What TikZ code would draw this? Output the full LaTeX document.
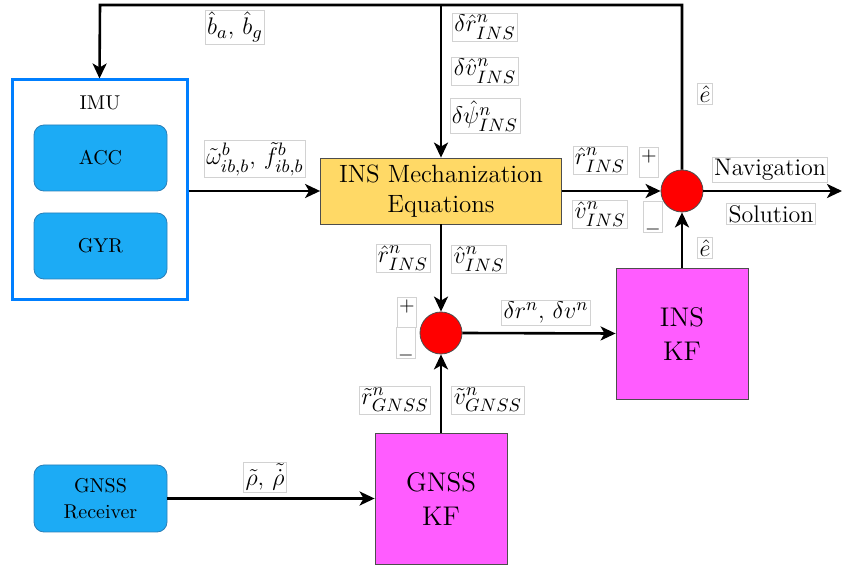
\documentclass[tikz,border=0pt]{standalone}
\usepackage{amsmath}
\usetikzlibrary{arrows.meta}

\definecolor{imublue}{HTML}{007FFF}
\definecolor{sensorblue}{HTML}{1CABF5}
\definecolor{sensorline}{HTML}{2A7FB8}
\definecolor{mechyellow}{HTML}{FFD966}
\definecolor{kfmagenta}{HTML}{FF5CFF}
\definecolor{boxgray}{HTML}{4D4D4D}

\begin{document}
\begin{tikzpicture}[x=0.5pt, y=-0.5pt,
    flow/.style={line width=1.3pt, -{Stealth[length=7.5pt, width=7pt, inset=2pt]}},
    sensor/.style={draw=sensorline, fill=sensorblue, rounded corners=5pt,
      minimum width=66.5pt, minimum height=33pt, align=center},
    kfbox/.style={draw=boxgray, fill=kfmagenta, minimum width=66pt,
      minimum height=65.5pt, align=center, font=\fontsize{13.5}{16}\selectfont},
    sumnode/.style={circle, draw=boxgray, fill=red, minimum size=21pt, inner sep=0pt},
    lbl/.style={draw=gray!35, fill=white, inner sep=1pt, font=\fontsize{13}{15}\selectfont},
    signbox/.style={draw=gray!35, fill=white, inner sep=1pt, minimum width=7pt}]

  \useasboundingbox (0,0) rectangle (843,567);

  % IMU with its two sensors
  \node [draw=imublue, line width=1.5pt, minimum width=87.5pt, minimum height=110pt]
    (imu) at (99.5,190) {};
  \node (imulabel) at (100,103) {IMU};
  \node [sensor] (acc) at (100.5,158) {ACC};
  \node [sensor] (gyr) at (100.5,246) {GYR};

  \node [sensor, minimum height=33.5pt] (rcv) at (100.5,498.5) {GNSS\\[1pt]Receiver};

  \node [draw=boxgray, fill=mechyellow, minimum width=120.5pt, minimum height=33pt,
    align=center, font=\fontsize{12.5}{15}\selectfont] (mech) at (441,191) {INS Mechanization\\Equations};

  \node [sumnode] (sumnav) at (682,191) {};
  \node [sumnode] (sumobs) at (441,333) {};

  \node [kfbox] (inskf) at (682,333.5) {INS\\[1pt]KF};
  \node [kfbox] (gnsskf) at (441,498.5) {GNSS\\[1pt]KF};

  \coordinate (topl) at (100,5);
  \coordinate (topr) at (682,5);
  \coordinate (navout) at (842,191);

  % feedback loop
  \draw [flow] (sumnav.north) -- (topr) -- (topl) -- (imu.north);
  \draw [flow] (mech.north |- topl) -- (mech.north);

  % forward path
  \draw [flow] (imu.east |- mech.west) -- (mech.west);
  \draw [flow] (mech.east) -- (sumnav.west);
  \draw [flow] (sumnav.east) -- (navout);
  \draw [flow] (inskf.north) -- (sumnav.south);
  \draw [flow] (mech.south) -- (sumobs.north);
  \draw [flow] (gnsskf.north) -- (sumobs.south);
  \draw [flow] (sumobs.east) -- (inskf.west);
  \draw [flow] (rcv.east) -- (gnsskf.west);

  % signal labels
  \node [lbl] (lbias) at (235,27) {$\hat{b}_a,\, \hat{b}_g$};
  \node [lbl] (ldr) at (485,27) {$\delta\hat{r}^n_{INS}$};
  \node [lbl] (ldv) at (485,71) {$\delta\hat{v}^n_{INS}$};
  \node [lbl] (ldpsi) at (485,116) {$\delta\hat{\psi}^n_{INS}$};
  \node [lbl] (limu) at (255,159) {$\tilde{\omega}^b_{ib,b},\, \tilde{f}^b_{ib,b}$};
  \node [lbl] (lrins) at (600,160) {$\hat{r}^n_{INS}$};
  \node [lbl] (lvins) at (600,214) {$\hat{v}^n_{INS}$};
  \node [lbl] (letop) at (705,94) {$\hat{e}$};
  \node [lbl] (lebot) at (705,248) {$\hat{e}$};
  \node [lbl, font=\large] (lnav) at (770,170) {Navigation};
  \node [lbl, font=\large] (lsol) at (771,214) {Solution};
  \node [lbl] (lrdown) at (403,258) {$\hat{r}^n_{INS}$};
  \node [lbl] (lvdown) at (479,259) {$\hat{v}^n_{INS}$};
  \node [lbl] (ldelta) at (546,313) {$\delta r^n,\, \delta v^n$};
  \node [lbl] (lrgnss) at (395,400) {$\tilde{r}^n_{GNSS}$};
  \node [lbl] (lvgnss) at (488,400) {$\tilde{v}^n_{GNSS}$};
  \node [lbl] (lrho) at (265,477) {$\tilde{\rho},\, \tilde{\dot{\rho}}$};

  % signs at the summing points
  \node [signbox, text height=1.9ex, text depth=1.1ex] (plusnav) at (649,162) {\raisebox{0.5ex}{$+$}};
  \node [signbox, text height=1.2ex, text depth=1.9ex] (minusnav) at (653,217) {\raisebox{-2.4ex}{$-$}};
  \node [signbox, text height=1.9ex, text depth=1.1ex] (plusobs) at (407,312) {\raisebox{0.5ex}{$+$}};
  \node [signbox, text height=1.2ex, text depth=1.9ex] (minusobs) at (406,343) {\raisebox{-2.4ex}{$-$}};
\end{tikzpicture}
\end{document}
